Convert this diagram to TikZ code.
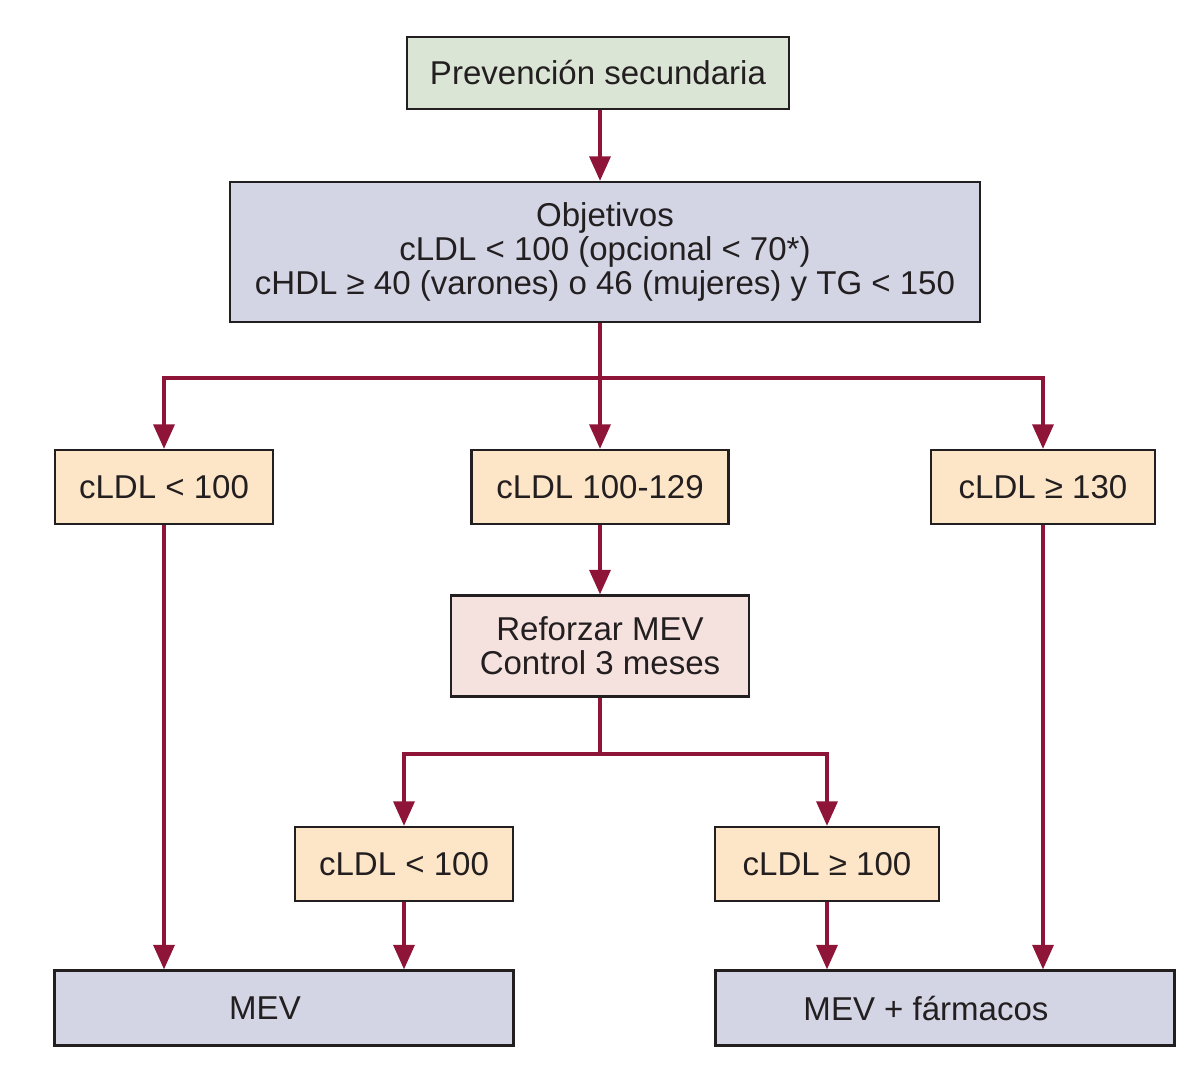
\documentclass[tikz,border=0pt]{standalone}
\usepackage{fontspec}
\setmainfont{Liberation Sans}
\usetikzlibrary{arrows.meta}

\definecolor{verde}{RGB}{219,229,213}
\definecolor{lila}{RGB}{211,213,229}
\definecolor{melon}{RGB}{253,229,199}
\definecolor{rosa}{RGB}{245,226,222}
\definecolor{granate}{RGB}{142,21,56}
\definecolor{borde}{RGB}{35,31,32}

\begin{document}
\begin{tikzpicture}[x=0.02cm, y=-0.02cm,
	box/.style={draw=borde, line width=1.3pt, rectangle, inner sep=0pt,
		align=center, text=borde, font=\fontsize{18.8}{19.5}\selectfont},
	ldl/.style={box, fill=melon, minimum height={74*\px}},
	fin/.style={box, fill=lila, minimum width={459*\px}, minimum height={75*\px}},
	link/.style={-{Triangle[length=14pt, width=12pt]}, draw=granate, line width=2pt}]
	\def \px {0.02cm}
	
	\useasboundingbox (0,0) rectangle (1200,1091);
	
	\node[box, fill=verde, minimum width={382*\px}, minimum height={72*\px}] (prev) at (598,73)
		{Prevención secundaria};
	\node[box, fill=lila, minimum width={750*\px}, minimum height={140*\px}] (obj) at (605,252)
		{Objetivos\\cLDL < 100 (opcional < 70*)\\cHDL ≥ 40 (varones) o 46 (mujeres) y TG < 150};
	
	\node[ldl, minimum width={218*\px}] (ldlA) at (164,487) {cLDL < 100};
	\node[ldl, minimum width={257*\px}] (ldlB) at (600,487) {cLDL 100-129};
	\node[ldl, minimum width={224*\px}] (ldlC) at (1043,487) {cLDL ≥ 130};
	
	\node[box, fill=rosa, minimum width={298*\px}, minimum height={101*\px}] (refor) at (600,646)
		{Reforzar MEV\\Control 3 meses};
	
	\node[ldl, minimum width={218*\px}] (ldlD) at (404,864) {cLDL < 100};
	\node[ldl, minimum width={224*\px}] (ldlE) at (827,864) {cLDL ≥ 100};
	
	\node[fin] (mev)  at (284,1008) {MEV\hspace*{0.76cm}};
	\node[fin] (mevf) at (945,1008) {MEV + fármacos\hspace*{0.76cm}};
	
	% ramas
	\coordinate (split1) at (600,378);
	\coordinate (split2) at (600,754);
	
	\draw[link] (prev.south -| split1) -- (obj.north -| split1);
	\draw[line width=2pt, draw=granate] (obj.south -| split1) -- (split1);
	\draw[link] (split1) -| (ldlA);
	\draw[link] (split1) -- (ldlB);
	\draw[link] (split1) -| (ldlC);
	
	\draw[link] (ldlB) -- (refor);
	\draw[line width=2pt, draw=granate] (refor.south -| split2) -- (split2);
	\draw[link] (split2) -| (ldlD);
	\draw[link] (split2) -| (ldlE);
	
	\draw[link] (ldlA) -- (ldlA |- mev.north);
	\draw[link] (ldlD) -- (ldlD |- mev.north);
	\draw[link] (ldlE) -- (ldlE |- mevf.north);
	\draw[link] (ldlC) -- (ldlC |- mevf.north);
\end{tikzpicture}
\end{document}
